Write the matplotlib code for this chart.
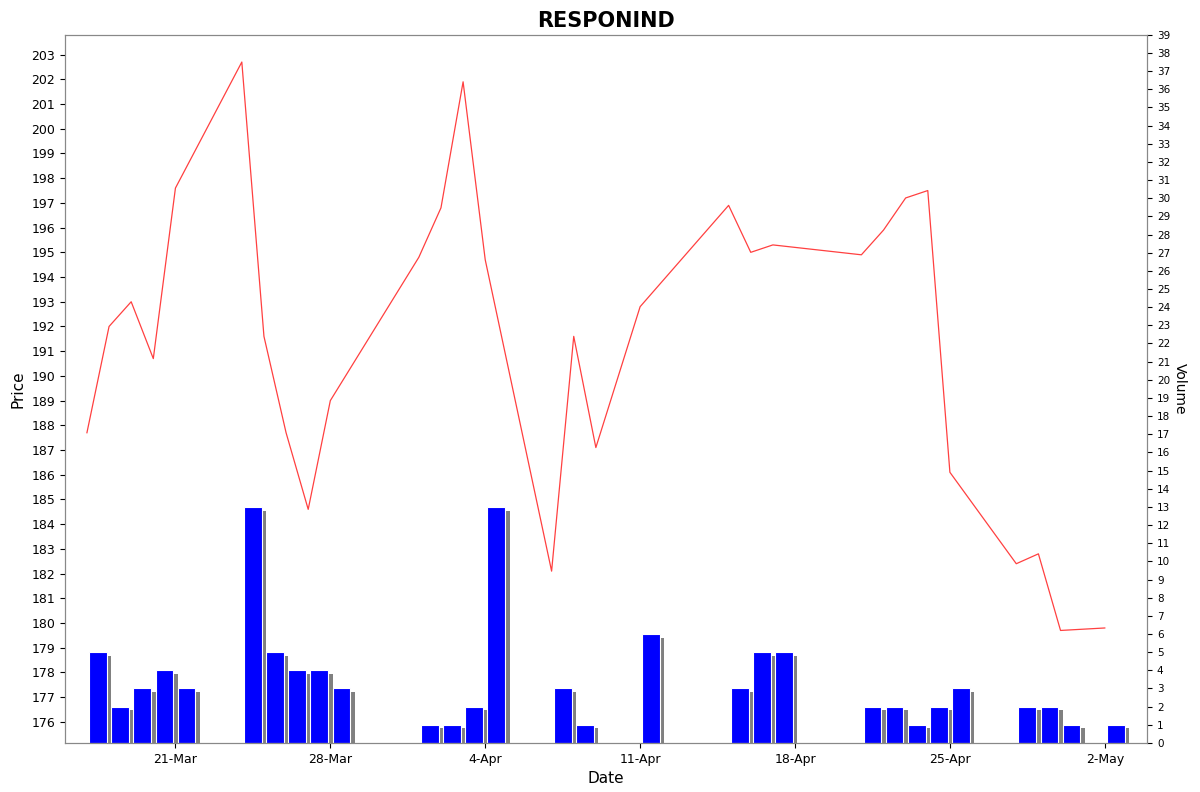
import numpy as np
import matplotlib.pyplot as plt
import matplotlib.dates as mdates
from datetime import datetime, timedelta

# Price series (trading days)
price_dates = ["2025-03-17", "2025-03-18", "2025-03-19", "2025-03-20", "2025-03-21",
               "2025-03-24", "2025-03-25", "2025-03-26", "2025-03-27", "2025-03-28",
               "2025-04-01", "2025-04-02", "2025-04-03", "2025-04-04",
               "2025-04-07", "2025-04-08", "2025-04-09", "2025-04-11",
               "2025-04-15", "2025-04-16", "2025-04-17",
               "2025-04-21", "2025-04-22", "2025-04-23", "2025-04-24", "2025-04-25",
               "2025-04-28", "2025-04-29", "2025-04-30", "2025-05-02"]
prices = [187.7, 192.0, 193.0, 190.7, 197.6,
          202.7, 191.6, 187.7, 184.6, 189.0,
          194.8, 196.8, 201.9, 194.7,
          182.1, 191.6, 187.1, 192.8,
          196.9, 195.0, 195.3,
          194.9, 195.9, 197.2, 197.5, 186.1,
          182.4, 182.8, 179.7, 179.8]
volumes = [5, 2, 3, 4, 3,
           13, 5, 4, 4, 3,
           1, 1, 2, 13,
           3, 1, 0, 6,
           3, 5, 5,
           2, 2, 1, 2, 3,
           2, 2, 1, 1]

dates = [datetime.strptime(d, "%Y-%m-%d") for d in price_dates]
x = mdates.date2num(dates)

fig, ax = plt.subplots(figsize=(12, 7.92), dpi=100)
fig.subplots_adjust(left=0.054, right=0.956, top=0.956, bottom=0.062)
ax2 = ax.twinx()

# volume bars with a grey shadow
vx = x + 0.1
ax2.bar(vx + 0.2, np.array(volumes) - 0.2, width=0.8, align="edge", color="#808080", zorder=1)
ax2.bar(vx, volumes, width=0.8, align="edge", color="#0000ff", edgecolor="white", linewidth=0.8, zorder=2)
ax2.set_ylim(0, 39)
ax2.set_yticks(range(0, 40))
ax2.tick_params(axis="y", labelsize=7.5)
ax2.set_ylabel("Volume", fontsize=10, rotation=270, labelpad=12)

# price line on top
ax.set_zorder(ax2.get_zorder() + 1)
ax.patch.set_visible(False)
ax.plot(x, prices, color="#ff4040", linewidth=0.9)
ax.set_ylim(175.15, 203.8)
ax.set_yticks(range(176, 204))
ax.tick_params(axis="y", labelsize=9)
ax.set_ylabel("Price", fontsize=11)
ax.set_xlabel("Date", fontsize=11)

ax.set_xlim(mdates.date2num(datetime(2025, 3, 16)), mdates.date2num(datetime(2025, 5, 3, 22)))
ticks = [datetime(2025, 3, 21) + timedelta(days=7 * i) for i in range(7)]
ax.set_xticks(mdates.date2num(ticks))
ax.xaxis.set_major_formatter(mdates.DateFormatter("%-d-%b"))
ax.tick_params(axis="x", labelsize=9)

for a in (ax, ax2):
    for s in a.spines.values():
        s.set_color("#888888")
        s.set_linewidth(0.8)

ax.set_title("RESPONIND", fontsize=15, fontweight="bold")
fig.savefig("out.png")
